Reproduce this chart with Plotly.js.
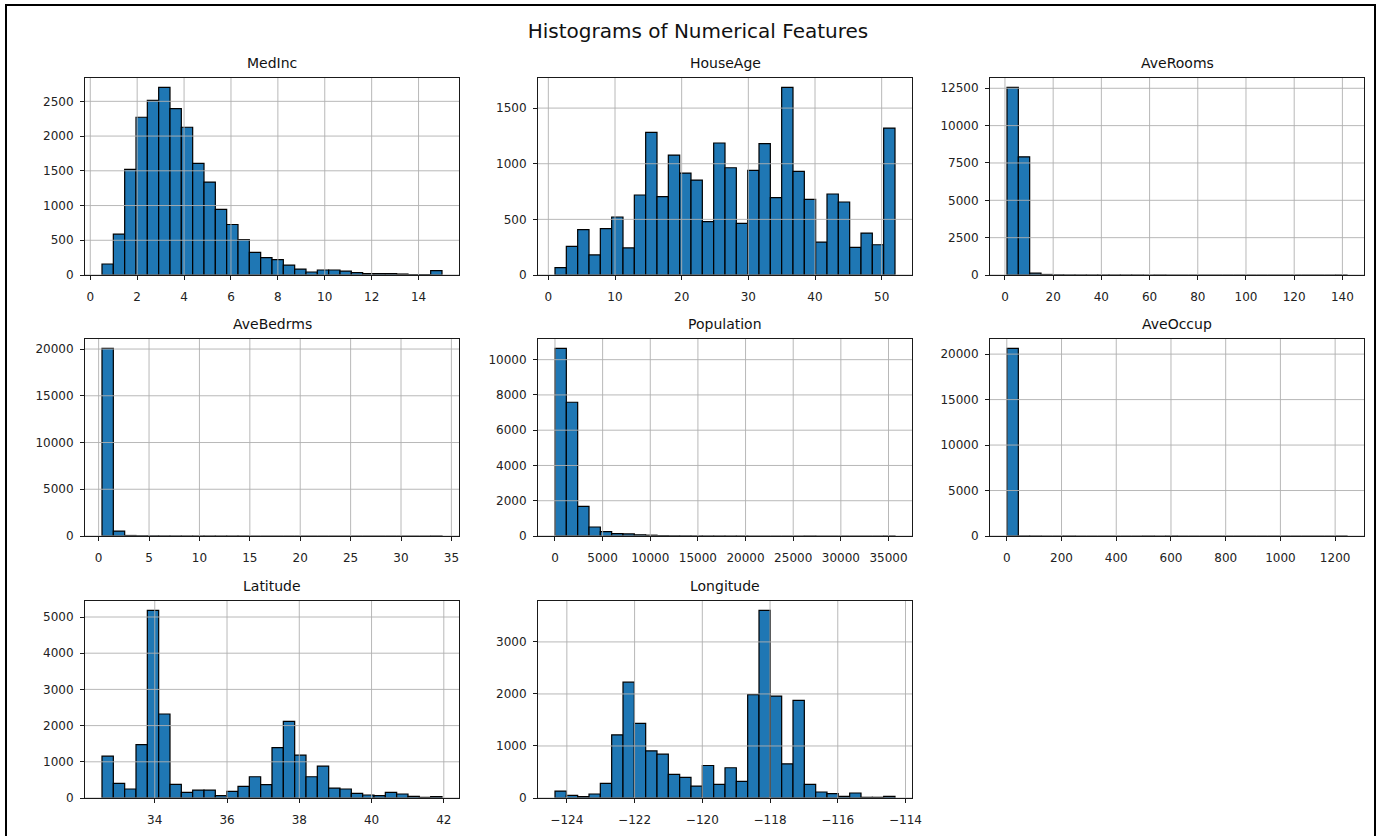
<!DOCTYPE html>
<html>
<head>
<meta charset="utf-8">
<script src="https://cdn.plot.ly/plotly-3.0.1.min.js"></script>
<style>
  html, body { margin: 0; padding: 0; background: #fff; overflow: hidden; }
  #chart { width: 1382px; height: 836px; }
  #frame {
    position: absolute; left: 5px; top: 4px; width: 1371px; height: 900px;
    box-sizing: border-box; border: 2px solid #000; pointer-events: none;
  }
</style>
</head>
<body>
<div id="chart"></div>
<div id="frame"></div>
<script>
// California housing features, 30 equal-width bins per feature
const featureNames = ['MedInc', 'HouseAge', 'AveRooms', 'AveBedrms', 'Population', 'AveOccup', 'Latitude', 'Longitude'];
const binMin = [0.4999, 1, 0.846, 0.333, 3, 0.692, 32.54, -124.35];
const binMax = [15.0001, 52, 141.909, 34.067, 35682, 1243.333, 41.95, -114.31];

const medIncCounts = [158, 588, 1520, 2271, 2514, 2701, 2395, 2127, 1606, 1338, 946, 727, 511, 325, 249,
  220, 143, 86, 43, 72, 72, 57, 33, 19, 19, 19, 14, 5, 5, 62];
const houseAgeCounts = [66, 257, 407, 180, 416, 521, 243, 719, 1281, 704, 1078, 916, 853, 479, 1186,
  964, 464, 940, 1180, 695, 1686, 931, 680, 296, 728, 656, 249, 377, 272, 1320];
const aveRoomsCounts = [12560, 7910, 120, 35, 12, 5, 3, 2, 2, 1, 1, 1, 0, 1, 0,
  0, 0, 0, 0, 0, 0, 0, 0, 0, 0, 0, 0, 0, 0, 1];
const aveBedrmsCounts = [20070, 530, 55, 25, 15, 10, 5, 3, 2, 2, 1, 1, 1, 0, 0,
  0, 0, 0, 0, 0, 0, 0, 0, 0, 0, 0, 0, 0, 0, 1];
const populationCounts = [10640, 7585, 1680, 510, 245, 130, 115, 70, 45, 20, 12, 8, 5, 3, 2,
  1, 1, 0, 0, 0, 0, 0, 1, 0, 0, 0, 0, 0, 0, 1];
const aveOccupCounts = [20630, 4, 1, 0, 0, 1, 0, 0, 0, 0, 0, 0, 1, 0, 1,
  0, 0, 0, 0, 0, 0, 0, 0, 0, 0, 0, 0, 0, 0, 1];
const latitudeCounts = [1156, 404, 248, 1477, 5183, 2321, 376, 156, 220, 220, 64, 183, 321, 587, 367,
  1394, 2119, 1183, 587, 881, 275, 248, 128, 83, 64, 156, 110, 46, 18, 37];
const longitudeCounts = [134, 51, 26, 77, 281, 1213, 2227, 1436, 906, 842, 453, 396, 230, 625, 262,
  581, 319, 1985, 3606, 1959, 657, 1876, 262, 115, 83, 32, 96, 13, 13, 32];

const featureCounts = [medIncCounts, houseAgeCounts, aveRoomsCounts, aveBedrmsCounts,
  populationCounts, aveOccupCounts, latitudeCounts, longitudeCounts];

// tick spacing on each axis
const xTickStep = [2, 10, 20, 5, 5000, 200, 2, 2];
const yTickStep = [500, 500, 2500, 5000, 2000, 5000, 1000, 1000];

// grid geometry in pixels
const W = 1382, H = 836;
const colLeft = [85, 538, 990];
const colWidth = 374;
const rowTop = [78, 339, 601];
const rowHeight = 197;

const FONT = 'DejaVu Sans, Verdana, sans-serif';
const BAR_COLOR = '#1f77b4';
const GRID_COLOR = '#b0b0b0';
const AXIS_COLOR = '#1a1a1a';

const traces = [];
const layout = {
  width: W, height: H,
  margin: {l: 0, r: 0, t: 0, b: 0},
  paper_bgcolor: '#ffffff',
  plot_bgcolor: '#ffffff',
  showlegend: false,
  font: {family: FONT, size: 12, color: '#222222'},
  title: {
    text: 'Histograms of Numerical Features',
    font: {family: FONT, size: 20, color: '#111111'},
    x: 698 / W, xanchor: 'center',
    y: 1 - 31 / H, yanchor: 'middle'
  },
  annotations: [],
  shapes: []
};

function ticksIn(lo, hi, step) {
  const out = [];
  for (let t = Math.ceil(lo / step) * step; t <= hi + 1e-9; t += step) out.push(+t.toFixed(6));
  return out;
}

featureNames.forEach((name, i) => {
  const n = i + 1;
  const row = Math.floor(i / 3), col = i % 3;
  const counts = featureCounts[i];
  const lo = binMin[i], hi = binMax[i];
  const binW = (hi - lo) / counts.length;
  const centers = counts.map((_, k) => lo + (k + 0.5) * binW);

  traces.push({
    type: 'bar',
    x: centers,
    y: counts,
    width: counts.map(() => binW),
    xaxis: 'x' + n,
    yaxis: 'y' + n,
    marker: {color: BAR_COLOR, line: {color: '#000000', width: 1.2}},
    hoverinfo: 'x+y'
  });

  const span = hi - lo;
  const xRange = [lo - 0.05 * span, hi + 0.05 * span];
  const yMax = Math.max(...counts) * 1.05;

  const x0 = colLeft[col] / W, x1 = (colLeft[col] + colWidth) / W;
  const yTop = 1 - rowTop[row] / H, yBot = 1 - (rowTop[row] + rowHeight) / H;

  const axCommon = {
    showline: true, mirror: true, linecolor: AXIS_COLOR, linewidth: 1,
    ticks: 'outside', ticklen: 4, tickwidth: 1, tickcolor: AXIS_COLOR,
    showgrid: false, zeroline: false,
    tickfont: {family: FONT, size: 12, color: '#222222'},
    exponentformat: 'none',
    fixedrange: true
  };

  const xAxis = Object.assign({}, axCommon, {
    domain: [x0, x1], anchor: 'y' + n, range: xRange,
    tick0: 0, dtick: xTickStep[i], ticklabelstandoff: 7
  });
  // plain integers without thousands separators (negative values keep the default minus glyph)
  if (lo >= 0) xAxis.tickformat = 'd';
  layout['xaxis' + n] = xAxis;

  layout['yaxis' + n] = Object.assign({}, axCommon, {
    domain: [yBot, yTop], anchor: 'x' + n, range: [0, yMax],
    tick0: 0, dtick: yTickStep[i], ticklabelstandoff: 4, tickformat: 'd'
  });

  // grid lines drawn on top of the bars
  ticksIn(xRange[0], xRange[1], xTickStep[i]).forEach(t => {
    layout.shapes.push({type: 'line', layer: 'above', xref: 'x' + n, yref: 'y' + n + ' domain',
      x0: t, x1: t, y0: 0, y1: 1, line: {color: GRID_COLOR, width: 0.9}});
  });
  ticksIn(0, yMax, yTickStep[i]).forEach(t => {
    layout.shapes.push({type: 'line', layer: 'above', xref: 'x' + n + ' domain', yref: 'y' + n,
      x0: 0, x1: 1, y0: t, y1: t, line: {color: GRID_COLOR, width: 0.9}});
  });

  layout.annotations.push({
    text: name, showarrow: false,
    xref: 'paper', yref: 'paper',
    x: (x0 + x1) / 2, xanchor: 'center',
    y: yTop + 15 / H, yanchor: 'middle',
    font: {family: FONT, size: 14, color: '#111111'}
  });
});

Plotly.newPlot('chart', traces, layout, {staticPlot: true, displayModeBar: false});
</script>
</body>
</html>
